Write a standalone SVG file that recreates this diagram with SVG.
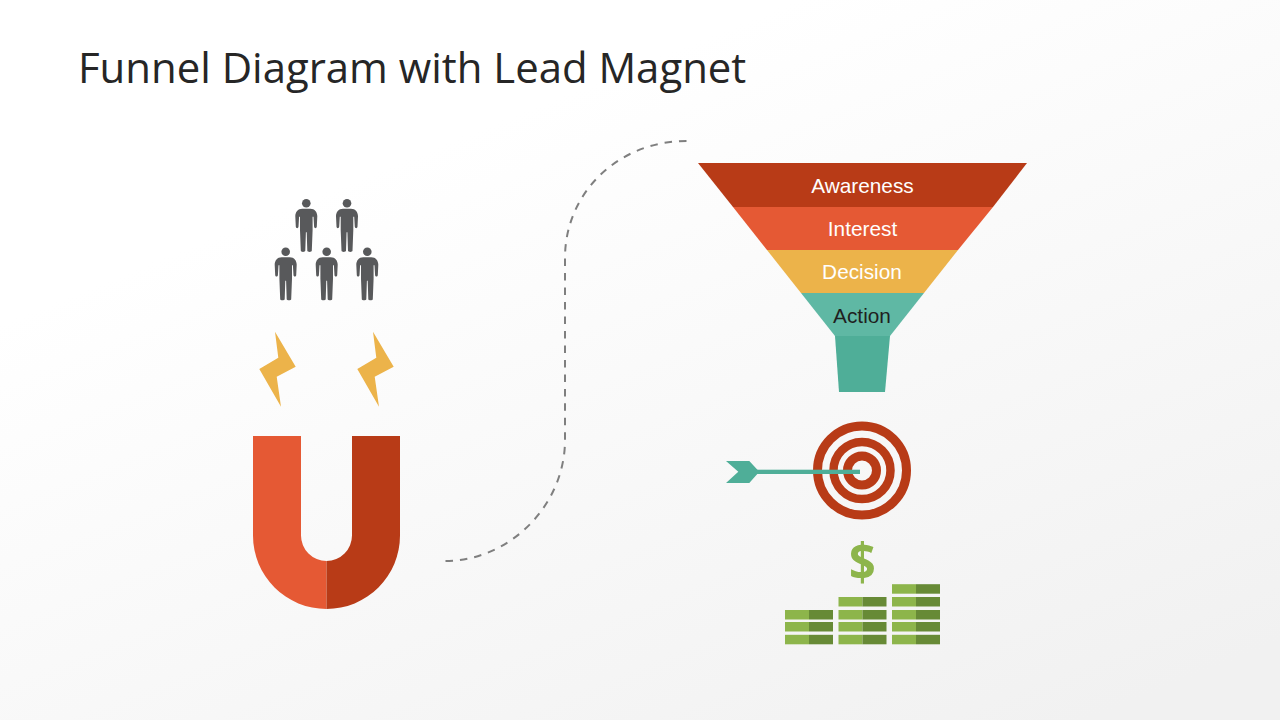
<svg xmlns="http://www.w3.org/2000/svg" xmlns:xlink="http://www.w3.org/1999/xlink" width="1280" height="720" viewBox="0 0 1280 720">
<style>
.t{font-family:"Liberation Sans",Arial,sans-serif;font-size:20.800px;text-anchor:middle}
.l{fill:#8DB54B}.d{fill:#678A36}
.o{fill:#E55934}.r{fill:#B83B17}.y{fill:#ECB34A}.g{fill:#5FB8A4}.g2{fill:#4FAE98}
.p{fill:#58595B}
</style>
<defs>
<linearGradient id="bg" x1="0.2" y1="0.1" x2="0.85" y2="1"><stop offset="0.15" stop-color="#ffffff"/><stop offset="1" stop-color="#f1f1f1"/></linearGradient>
<g id="person"><circle cx="0" cy="0" r="4.300"/><path d="M-4 5.500H4C8.500 5.500 11 9 11 13L10.500 23.500C10.300 25.300 8 25.300 7.800 23.500L7.200 13.500H6.300V27L5.500 47.500C5.400 49 1.200 49 1 47.500L0.400 29H-0.400L-1 47.500C-1.200 49-5.400 49-5.500 47.500L-6.300 27V13.500H-7.200L-7.800 23.500C-8 25.300-10.300 25.300-10.500 23.500L-11 13C-11 9-8.500 5.500-4 5.500Z"/></g>
<g id="stack2"><rect class="l" x="0" y="0" width="24" height="9.500"/><rect class="d" x="24" y="0" width="24" height="9.500"/></g>
<polygon id="bolt" class="y" points="275,331.700 295.700,366.700 276.700,376.700 281,406.700 259.300,369 278.300,357.700"/>
</defs>
<rect width="1280" height="720" fill="url(#bg)"/>
<text x="78" y="83" font-family="'Open Sans',sans-serif" font-size="41.900" fill="#262626">Funnel Diagram with Lead Magnet</text>
<g id="connectors"><path d="M686.500 141C618 141 565 193 565 258V440C565 505 510 561 445 561" fill="none" stroke="#7f7f7f" stroke-width="2" stroke-dasharray="7.500 6.980"/></g>
<g id="people" class="p"><use xlink:href="#person" x="306.300" y="203.300"/><use xlink:href="#person" x="347" y="203.300"/><use xlink:href="#person" x="285.700" y="251.700"/><use xlink:href="#person" x="326.700" y="251.700"/><use xlink:href="#person" x="367.300" y="251.700"/></g>
<g id="bolts"><use xlink:href="#bolt"/><use xlink:href="#bolt" x="98"/></g>
<g id="magnet"><path class="o" d="M253 436H301V535.500A25.500 25.500 0 0 0 326.500 561V609A73.500 73.500 0 0 1 253 535.500Z"/><path class="r" d="M400 436H352V535.500A25.500 25.500 0 0 1 326.500 561V609A73.500 73.500 0 0 0 400 535.500Z"/></g>
<g id="funnel">
<polygon class="r" points="698,163 1027,163 993,207 733,207"/>
<polygon class="o" points="733,207 993,207 958,250 767,250"/>
<polygon class="y" points="767,250 958,250 924,293 801,293"/>
<polygon class="g" points="801,293 924,293 890,336 835,336"/>
<polygon class="g2" points="835,336 890,336 885,392 839,392"/>
<text class="t" x="862.500" y="193" fill="#fff">Awareness</text>
<text class="t" x="862.500" y="236" fill="#fff">Interest</text>
<text class="t" x="862" y="279" fill="#fff">Decision</text>
<text class="t" x="862" y="323" fill="#1f1f1f">Action</text>
</g>
<g id="target"><g fill="none" stroke="#B83B17"><circle cx="862" cy="470.500" r="44.500" stroke-width="9"/><circle cx="862" cy="470.500" r="28.500" stroke-width="8.500"/><circle cx="862" cy="470.500" r="14.500" stroke-width="9"/></g></g>
<g id="arrow" class="g2"><rect x="755" y="469.700" width="105" height="4.300"/><polygon points="726,461 749.300,461 759.300,471.700 749.300,483 726,483 738.300,471.700"/></g>
<g id="money">
<text transform="translate(862.500 580.500) scale(0.900 1)" font-family="'Open Sans',sans-serif" font-weight="700" font-size="52" text-anchor="middle" fill="#8DB54B">$</text>
<use xlink:href="#stack2" x="785" y="610"/><use xlink:href="#stack2" x="785" y="622"/><use xlink:href="#stack2" x="785" y="634.800"/>
<use xlink:href="#stack2" x="838.500" y="597"/><use xlink:href="#stack2" x="838.500" y="610"/><use xlink:href="#stack2" x="838.500" y="622"/><use xlink:href="#stack2" x="838.500" y="634.800"/>
<use xlink:href="#stack2" x="892" y="584.200"/><use xlink:href="#stack2" x="892" y="597"/><use xlink:href="#stack2" x="892" y="610"/><use xlink:href="#stack2" x="892" y="622"/><use xlink:href="#stack2" x="892" y="634.800"/>
</g>
</svg>
